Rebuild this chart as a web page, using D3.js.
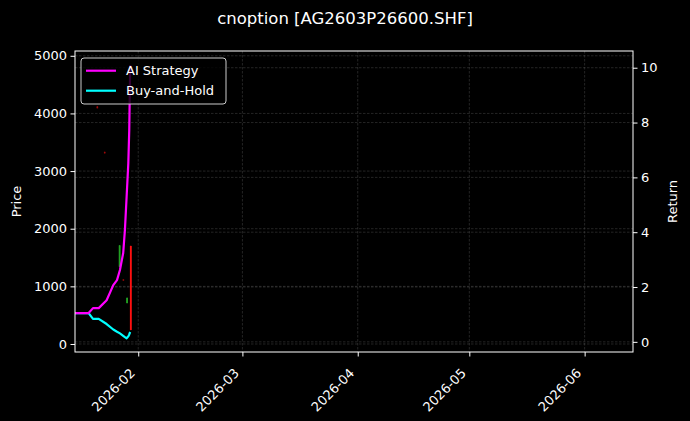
<!DOCTYPE html>
<html>
<head>
    <meta charset="utf-8">
    <title>cnoption chart</title>
    <script src="https://d3js.org/d3.v7.min.js"></script>
    <style>
        body { margin: 0; background: #000; }
        text { font-family: "DejaVu Sans", sans-serif; fill: #fff; }
    </style>
</head>
<body>
    <div id="chart"></div>
    <script>
        // Title / labels
        var chartTitle = "cnoption [AG2603P26600.SHF]";

        // Candles (price axis, left)
        var candleDates = ["2026-01-21", "2026-01-23", "2026-01-27", "2026-01-28", "2026-01-29", "2026-01-30"];
        var candleOpen  = [4120, 3330, 1340, 1120, 710, 1700];
        var candleHigh  = [4130, 3340, 1716, 1125, 805, 1705];
        var candleLow   = [4085, 3300, 1335, 1095, 705, 240];
        var candleClose = [4090, 3310, 1710, 1100, 800, 243];

        // Return lines (right axis)
        var lineDates = ["2026-01-15T00:00", "2026-01-18T16:00", "2026-01-19T20:00", "2026-01-21T09:00",
            "2026-01-23T12:00", "2026-01-25T07:00", "2026-01-26T07:00", "2026-01-27T02:00",
            "2026-01-27T23:00", "2026-01-28T10:00", "2026-01-28T21:00", "2026-01-29T08:00",
            "2026-01-29T14:00", "2026-01-29T20:00"];
        var aiReturn  = [1.05, 1.05, 1.23, 1.23, 1.52, 2.07, 2.25, 2.62, 3.24, 4.08, 5.29, 6.52, 7.73, 10.1];
        var bhReturn  = [1.05, 1.05, 0.84, 0.84, 0.65, 0.45, 0.37, 0.31, 0.22, 0.17, 0.13, 0.20, 0.27, 0.36];

        // Axis ticks
        var xTicks = ["2026-02-01", "2026-03-01", "2026-04-01", "2026-05-01", "2026-06-01"];
        var priceTicks = [0, 1000, 2000, 3000, 4000, 5000];
        var returnTicks = [0, 2, 4, 6, 8, 10];

        var W = 690, H = 421;
        var margin = { top: 51, right: 57, bottom: 69, left: 75 };
        var width = W - margin.left - margin.right,
            height = H - margin.top - margin.bottom;
        var fs = "13px";

        var parse = d3.isoParse;

        var svg = d3.select("#chart").append("svg")
            .attr("width", W)
            .attr("height", H)
            .style("background", "#000");

        var g = svg.append("g").attr("transform", `translate(${margin.left},${margin.top})`);

        var x = d3.scaleTime()
            .domain([parse("2026-01-15T00:00"), parse("2026-06-14T00:00")])
            .range([0, width]);
        var yPrice = d3.scaleLinear().domain([-139, 5083]).range([height, 0]);
        var yRet = d3.scaleLinear().domain([-0.37, 10.61]).range([height, 0]);

        // grid lines
        var grid = g.append("g").attr("class", "grid")
            .attr("stroke", "#888").attr("stroke-opacity", 0.45)
            .attr("stroke-width", 0.6).attr("stroke-dasharray", "2.5,1.5");
        xTicks.forEach(t => grid.append("line")
            .attr("x1", x(parse(t))).attr("x2", x(parse(t)))
            .attr("y1", 0).attr("y2", height));
        priceTicks.forEach(t => grid.append("line")
            .attr("x1", 0).attr("x2", width)
            .attr("y1", yPrice(t)).attr("y2", yPrice(t)));
        returnTicks.forEach(t => grid.append("line")
            .attr("x1", 0).attr("x2", width)
            .attr("y1", yRet(t)).attr("y2", yRet(t)));

        // candles
        var candles = candleDates.map((d, i) => ({
            date: parse(d), o: candleOpen[i], h: candleHigh[i], l: candleLow[i], c: candleClose[i]
        }));
        var cg = g.append("g");
        candles.forEach(d => {
            var col = d.c >= d.o ? "#22a022" : "#ff1010";
            var small = Math.abs(d.h - d.l) < 100;
            cg.append("line")
                .attr("x1", x(d.date)).attr("x2", x(d.date))
                .attr("y1", yPrice(d.h)).attr("y2", yPrice(d.l))
                .attr("stroke", col).attr("stroke-width", 1)
                .attr("opacity", small ? 0.45 : 1);
            cg.append("rect")
                .attr("x", x(d.date) - 0.9)
                .attr("width", 1.8)
                .attr("y", yPrice(Math.max(d.o, d.c)))
                .attr("height", Math.max(0.8, Math.abs(yPrice(d.o) - yPrice(d.c))))
                .attr("fill", col)
                .attr("opacity", small ? 0.45 : 1);
        });

        // return lines
        var line = d3.line()
            .x(d => x(d[0]))
            .y(d => yRet(d[1]));
        var dates = lineDates.map(parse);

        g.append("path")
            .datum(dates.map((d, i) => [d, bhReturn[i]]))
            .attr("fill", "none").attr("stroke", "#00ffff")
            .attr("stroke-width", 2.2).attr("stroke-linejoin", "round")
            .attr("d", line);
        g.append("path")
            .datum(dates.map((d, i) => [d, aiReturn[i]]))
            .attr("fill", "none").attr("stroke", "#ff00ff")
            .attr("stroke-width", 2.2).attr("stroke-linejoin", "round")
            .attr("d", line);

        // axes
        var xAxis = g.append("g")
            .attr("transform", `translate(0,${height})`)
            .call(d3.axisBottom(x).tickValues(xTicks.map(parse)).tickFormat(d3.timeFormat("%Y-%m")).tickSize(4.5).tickPadding(3));
        xAxis.selectAll("text")
            .style("font-size", fs)
            .attr("text-anchor", "end")
            .attr("y", 0)
            .attr("dy", 0)
            .attr("transform", "translate(-3,22) rotate(-45)");

        var yAxisL = g.append("g")
            .call(d3.axisLeft(yPrice).tickValues(priceTicks).tickFormat(d3.format("d")).tickSize(4.5).tickPadding(3.5));
        yAxisL.selectAll("text").style("font-size", fs);

        var yAxisR = g.append("g")
            .attr("transform", `translate(${width},0)`)
            .call(d3.axisRight(yRet).tickValues(returnTicks).tickSize(4.5).tickPadding(3.5));
        yAxisR.selectAll("text").style("font-size", fs);

        g.selectAll(".domain").remove();
        g.selectAll(".tick line").attr("stroke", "#fff");
        g.selectAll(".tick text").attr("fill", "#fff");

        // frame
        g.append("rect")
            .attr("width", width).attr("height", height)
            .attr("fill", "none").attr("stroke", "#fff").attr("stroke-width", 1);

        // axis labels
        svg.append("text")
            .attr("transform", `translate(21,${margin.top + height / 2}) rotate(-90)`)
            .attr("text-anchor", "middle")
            .style("font-size", fs)
            .text("Price");
        svg.append("text")
            .attr("transform", `translate(677,${margin.top + height / 2}) rotate(-90)`)
            .attr("text-anchor", "middle")
            .style("font-size", fs)
            .text("Return");

        // title
        svg.append("text")
            .attr("x", W / 2).attr("y", 23.5)
            .attr("text-anchor", "middle")
            .style("font-size", "16.5px")
            .text(chartTitle);

        // legend
        var legend = g.append("g").attr("transform", "translate(6,7)");
        legend.append("rect")
            .attr("width", 145).attr("height", 46)
            .attr("rx", 3)
            .attr("fill", "#000").attr("fill-opacity", 0.8)
            .attr("stroke", "#ccc").attr("stroke-width", 1);
        var items = [["AI Strategy", "#ff00ff"], ["Buy-and-Hold", "#00ffff"]];
        items.forEach((it, i) => {
            var yy = 12.7 + i * 20;
            legend.append("line")
                .attr("x1", 5).attr("x2", 35)
                .attr("y1", yy).attr("y2", yy)
                .attr("stroke", it[1]).attr("stroke-width", 2.2);
            legend.append("text")
                .attr("x", 45).attr("y", yy)
                .attr("dy", "0.35em")
                .style("font-size", fs)
                .text(it[0]);
        });
    </script>
</body>
</html>
